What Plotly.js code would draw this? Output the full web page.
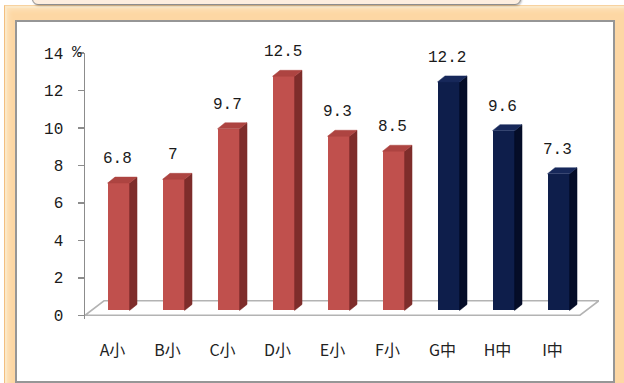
<!DOCTYPE html>
<html>
<head>
<meta charset="utf-8">
<script src="https://cdn.plot.ly/plotly-3.0.1.min.js"></script>
<style>
  html, body { margin: 0; padding: 0; background: #ffffff; overflow: hidden; }
  #stage { position: relative; width: 624px; height: 383px; overflow: hidden; }
  /* peach frame around the chart */
  #frame {
    position: absolute; left: 4px; top: 5px; width: 640px; height: 400px;
    background: #fdd7a4;
    box-shadow: inset 2px 2px 1px #fbe9c9, inset 4px 4px 4px #fde3bb;
    border-left: 1px solid #f3bf80; border-top: 1px solid #f7d2a0;
  }
  /* white chart panel */
  #panel {
    position: absolute; left: 15px; top: 20px; width: 596px; height: 359px;
    background: #ffffff; border: 2px solid #969696;
  }
  /* tab strip at the top edge */
  #tab {
    position: absolute; left: 32px; top: -10px; width: 487px; height: 13px;
    background: #fdeedf; border: 1px solid #8e8e8e; border-radius: 0 0 6px 6px;
    box-shadow: 1px 1px 2px rgba(0,0,0,0.25);
  }
  #chart { position: absolute; left: 0; top: 0; width: 624px; height: 383px; }
</style>
</head>
<body>
<div id="stage">
  <div id="frame"></div>
  <div id="panel"></div>
  <div id="tab"></div>
  <div id="chart"></div>
</div>
<script>
// School names and their rates (%)
const categories = ['A小', 'B小', 'C小', 'D小', 'E小', 'F小', 'G中', 'H中', 'I中'];
const rates = [6.8, 7, 9.7, 12.5, 9.3, 8.5, 12.2, 9.6, 7.3];
const yTicks = [0, 2, 4, 6, 8, 10, 12, 14];

// pseudo-3D geometry (axis units)
const FRONT_OFF = -0.09;   // front face start relative to category centre
const FRONT_W = 0.4;       // front face width
const BAR_DX = 0.136;      // depth shift of bar back edge (x units)
const BAR_DY = 0.32;       // depth shift of bar back edge (value units)
const FLOOR_DX = 0.3456;   // floor depth (x units)
const FLOOR_DY = 0.774;    // floor depth (value units)

const palette = {
  '小': { front: '#c0504d', side: '#7e2d2b', top: '#ad4441' },
  '中': { front: '#0e1e4b', side: '#050d28', top: '#17285a' }
};

const idx = categories.map((_, i) => i);
const levelOf = c => c.slice(-1);

const traces = [];

// floor outline under the bars
const n = categories.length;
traces.push({
  type: 'scatter', mode: 'lines', xaxis: 'x', yaxis: 'y',
  x: [-0.5, n - 0.5, n - 0.5 + FLOOR_DX, -0.5 + FLOOR_DX, -0.5],
  y: [0, 0, FLOOR_DY, FLOOR_DY, 0],
  line: { color: '#b3b3b3', width: 1.6 },
  hoverinfo: 'skip', showlegend: false
});

// front faces of the bars
traces.push({
  type: 'bar', xaxis: 'x', yaxis: 'y2',
  x: idx, y: rates,
  offset: FRONT_OFF, width: FRONT_W,
  marker: { color: categories.map(c => palette[levelOf(c)].front), line: { width: 0 } },
  showlegend: false, hoverinfo: 'x+y'
});

// side and top faces
rates.forEach((v, i) => {
  const col = palette[levelOf(categories[i])];
  const x0 = i + FRONT_OFF, x1 = x0 + FRONT_W;
  traces.push({
    type: 'scatter', mode: 'lines', xaxis: 'x', yaxis: 'y2',
    x: [x1, x1 + BAR_DX, x1 + BAR_DX, x1, x1],
    y: [0, BAR_DY, v + BAR_DY, v, 0],
    fill: 'toself', fillcolor: col.side, line: { width: 0.5, color: col.side },
    hoverinfo: 'skip', showlegend: false
  });
  traces.push({
    type: 'scatter', mode: 'lines', xaxis: 'x', yaxis: 'y2',
    x: [x0, x0 + BAR_DX, x1 + BAR_DX, x1, x0],
    y: [v, v + BAR_DY, v + BAR_DY, v, v],
    fill: 'toself', fillcolor: col.top, line: { width: 0.5, color: col.top },
    hoverinfo: 'skip', showlegend: false
  });
});

// value labels above each bar
const valueLabels = rates.map((v, i) => ({
  xref: 'x', yref: 'y2', x: i, y: v, xshift: 5, yshift: 24,
  text: String(v), showarrow: false, yanchor: 'middle', xanchor: 'center',
  font: { family: 'Liberation Mono, DejaVu Sans Mono, monospace', size: 16, color: '#1a1a1a' }
}));

const yMin = -0.2, yMax = 14;
const depthShift = 0.256;

const layout = {
  width: 624, height: 383,
  margin: { l: 85, r: 25, t: 53, b: 64 },
  paper_bgcolor: 'rgba(0,0,0,0)',
  plot_bgcolor: 'rgba(0,0,0,0)',
  showlegend: false,
  bargap: 0,
  xaxis: {
    range: [-0.5, n - 0.5 + FLOOR_DX],
    tickmode: 'array', tickvals: idx, ticktext: categories,
    ticks: '', showline: false, showgrid: false, zeroline: false,
    ticklabelstandoff: 20,
    tickfont: { family: 'Noto Sans CJK JP, sans-serif', size: 16, color: '#222222' },
    fixedrange: true
  },
  xaxis2: {
    overlaying: 'x', anchor: 'y',
    range: [-0.5, n - 0.5 + FLOOR_DX],
    tickmode: 'array', tickvals: idx.concat([n]).map(i => i - 0.5),
    ticks: 'outside', ticklen: 5, tickwidth: 1.5, tickcolor: '#a6a6a6',
    showticklabels: false, showline: false, showgrid: false, zeroline: false,
    fixedrange: true
  },
  yaxis: {
    range: [yMin, yMax],
    tickmode: 'array', tickvals: yTicks,
    ticks: 'outside', ticklen: 6, tickwidth: 1.5, tickcolor: '#8c8c8c',
    showline: true, linecolor: '#8c8c8c', linewidth: 1.5,
    showgrid: false, zeroline: false,
    ticklabelstandoff: 11,
    tickfont: { family: 'Liberation Mono, DejaVu Sans Mono, monospace', size: 16, color: '#1a1a1a' },
    fixedrange: true
  },
  yaxis2: {
    overlaying: 'y', anchor: 'x',
    range: [yMin - depthShift, yMax - depthShift],
    visible: false, fixedrange: true
  },
  annotations: valueLabels.concat([{
    xref: 'paper', yref: 'paper', x: 0, y: 1, xshift: -8, yshift: 0,
    text: '%', showarrow: false, xanchor: 'center', yanchor: 'middle',
    font: { family: 'Liberation Mono, DejaVu Sans Mono, monospace', size: 16, color: '#1a1a1a' }
  }])
};

Plotly.newPlot('chart', traces, layout, { staticPlot: true, displayModeBar: false });
</script>
</body>
</html>
